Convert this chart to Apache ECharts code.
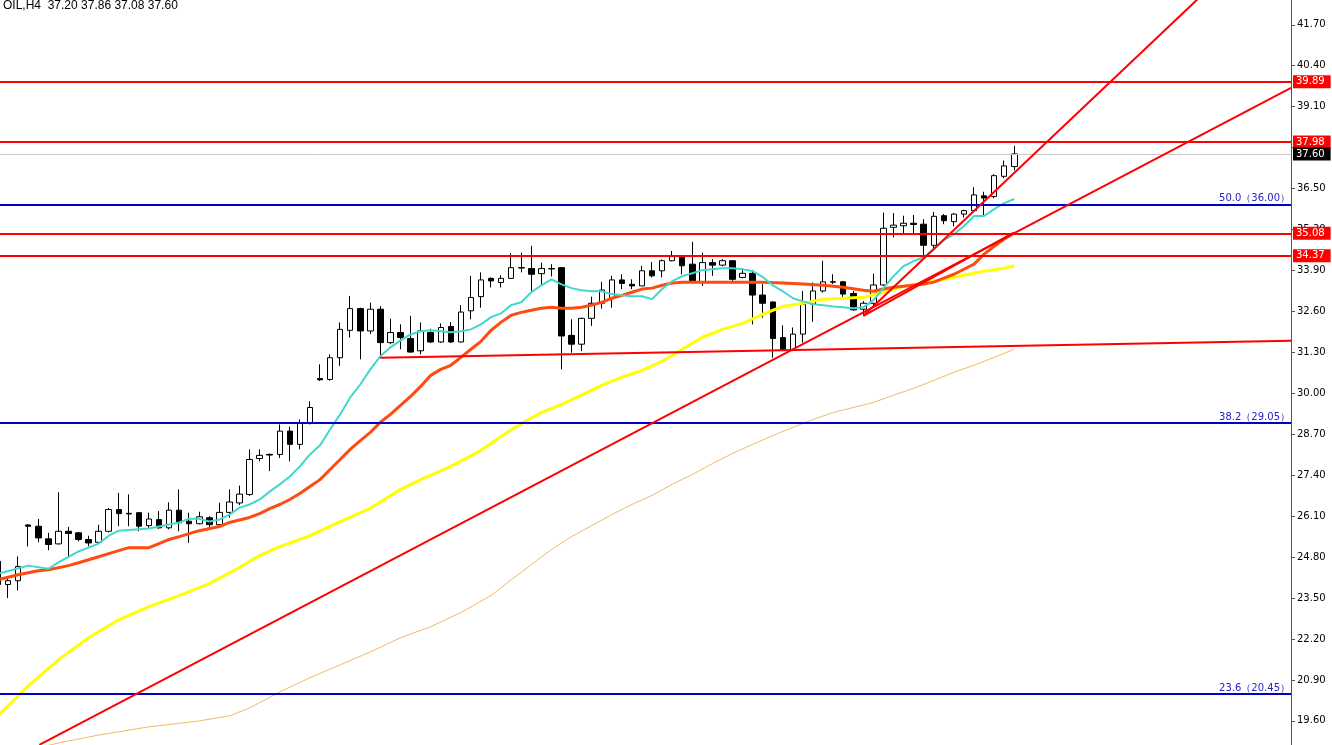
<!DOCTYPE html>
<html><head><meta charset="utf-8">
<script src="https://cdn.jsdelivr.net/npm/echarts@6/dist/echarts.min.js"></script>
<style>html,body{margin:0;padding:0;background:#fff;overflow:hidden;width:1332px;height:745px;position:relative}
#c{position:absolute;left:-7px;top:-13px;width:1339px;height:778px}</style>
</head><body><div id="c"></div>
<script>
const symbolInfo = 'OIL,H4';
const lastOHLC = [37.20, 37.86, 37.08, 37.60];
// candles: [open, high, low, close]
const candles = [
[24.67,24.75,23.90,23.93],[23.93,24.19,23.50,24.05],[24.05,24.82,23.74,24.50],[25.82,25.85,25.14,25.78],
[25.78,26.01,25.27,25.41],[25.38,25.57,25.02,25.20],[25.22,26.86,25.20,25.62],[25.62,25.76,24.78,25.55],
[25.57,25.60,25.30,25.36],[25.36,25.48,25.14,25.25],[25.27,25.83,25.23,25.62],[25.62,26.36,25.58,26.31],
[26.31,26.84,25.78,26.18],[26.19,26.79,25.78,26.17],[26.21,26.23,25.62,25.78],[25.80,26.21,25.73,26.01],
[25.99,26.26,25.70,25.73],[25.73,26.54,25.68,26.29],[26.29,26.95,25.62,25.89],[25.94,26.21,25.25,25.86],
[25.86,26.24,25.84,26.08],[26.05,26.10,25.73,25.83],[25.83,26.53,25.80,26.22],[26.22,26.95,26.05,26.55],
[26.52,27.07,26.45,26.80],[26.79,28.22,26.74,27.90],[27.93,28.22,27.84,28.03],[28.06,28.09,27.53,28.04],
[28.06,29.01,27.95,28.80],[28.80,28.94,27.84,28.38],[28.38,29.17,28.22,29.07],[29.07,29.75,29.01,29.55],
[30.47,30.92,30.39,30.43],[30.44,31.24,30.40,31.13],[31.13,32.25,30.87,32.03],[32.00,33.09,31.77,32.69],
[32.69,32.72,31.08,31.98],[31.98,32.88,31.88,32.67],[32.67,32.77,31.13,31.61],[31.61,32.37,31.56,31.93],
[31.93,32.19,31.40,31.77],[31.74,32.46,31.29,31.31],[31.35,32.25,31.24,31.98],[31.93,32.05,31.60,31.63],
[31.63,32.22,31.60,32.09],[32.12,32.26,31.60,31.63],[31.63,32.80,31.61,32.58],[32.62,33.73,32.35,33.04],
[33.07,33.84,32.72,33.60],[33.65,33.68,33.36,33.57],[33.52,33.75,33.36,33.65],[33.65,34.45,33.64,33.99],
[33.99,34.47,33.84,33.98],[33.96,34.68,33.25,33.78],[33.80,34.15,33.41,33.96],[33.96,34.10,33.71,33.95],
[33.99,34.00,30.76,31.82],[31.84,32.35,31.29,31.56],[31.56,32.40,31.34,32.38],[32.38,33.07,32.14,32.86],
[32.86,33.54,32.69,33.28],[33.04,33.73,32.72,33.60],[33.60,33.78,33.31,33.49],[33.46,33.62,33.31,33.41],
[33.41,34.05,33.40,33.89],[33.89,34.17,33.68,33.73],[33.89,34.25,33.68,34.21],[34.21,34.52,34.19,34.37],
[34.37,34.39,33.78,34.05],[34.10,34.81,33.50,33.52],[33.52,34.47,33.41,34.15],[34.15,34.26,33.73,34.07],
[34.07,34.26,34.03,34.21],[34.21,34.23,33.57,33.62],[33.68,33.96,33.65,33.81],[33.81,33.92,32.19,33.12],
[33.12,33.47,32.40,32.86],[32.90,32.92,31.13,31.74],[31.77,32.16,31.34,31.38],[31.38,32.09,31.34,31.88],
[31.88,33.25,31.61,32.83],[32.83,33.52,32.27,33.25],[33.25,34.21,33.20,33.54],[33.54,33.78,33.47,33.53],
[33.54,33.57,33.00,33.15],[33.17,33.25,32.62,32.65],[32.67,32.93,32.46,32.86],[32.86,33.80,32.78,33.44],
[33.44,35.74,33.41,35.24],[35.27,35.72,34.95,35.34],[35.32,35.64,35.05,35.40],[35.40,35.66,35.05,35.36],
[35.37,35.53,34.31,34.70],[34.70,35.76,34.58,35.62],[35.64,35.69,35.37,35.48],[35.45,35.72,35.30,35.69],
[35.69,35.83,35.58,35.80],[35.80,36.54,35.78,36.30],[36.27,36.40,35.62,36.20],[36.25,36.96,36.19,36.91],
[36.89,37.39,36.83,37.22],[37.20,37.86,37.08,37.60]
];
// moving averages: [candle index, value]
const maCyan = [[0,24.27],[3,24.53],[5,24.43],[6,24.63],[8,24.98],[10,25.23],[11,25.48],[12,25.64],[15,25.71],[18,25.90],[19,26.02],[20,26.02],[21,25.93],[22,25.99],[23,26.15],[24,26.37],[25,26.47],[26,26.63],[27,26.88],[28,27.11],[29,27.36],[30,27.68],[31,28.06],[32,28.35],[33,28.85],[34,29.33],[35,29.87],[36,30.28],[37,30.76],[38,31.18],[39,31.46],[40,31.68],[41,31.87],[42,31.97],[43,32.00],[44,31.97],[45,31.94],[46,31.97],[47,32.03],[48,32.19],[49,32.42],[50,32.54],[51,32.80],[52,32.89],[53,33.21],[54,33.43],[55,33.62],[56,33.46],[57,33.34],[58,33.27],[59,33.24],[60,33.24],[61,33.15],[62,33.11],[63,33.08],[64,33.08],[65,32.99],[66,33.31],[67,33.56],[68,33.72],[69,33.81],[70,33.91],[71,33.94],[72,33.97],[73,33.97],[74,33.94],[75,33.88],[76,33.69],[77,33.43],[78,33.24],[79,33.02],[80,32.92],[81,32.83],[82,32.80],[83,32.76],[84,32.73],[85,32.70],[86,32.73],[87,32.96],[88,33.34],[89,33.72],[90,34.04],[91,34.20],[92,34.32],[93,34.58],[94,34.86],[95,35.05],[96,35.31],[97,35.63],[98,35.63],[99,35.85],[100,36.04],[101,36.17]];
const maOrange = [[0,24.08],[2,24.24],[4,24.37],[5,24.40],[7,24.53],[8,24.62],[10,24.81],[11,24.91],[13,25.10],[15,25.10],[16,25.23],[17,25.36],[18,25.45],[20,25.64],[22,25.77],[23,25.90],[25,26.06],[26,26.18],[27,26.34],[28,26.47],[29,26.63],[30,26.82],[31,27.04],[32,27.26],[33,27.58],[34,27.90],[35,28.22],[36,28.50],[37,28.76],[38,29.08],[39,29.33],[40,29.62],[41,29.90],[42,30.22],[43,30.57],[44,30.76],[45,30.89],[46,31.14],[47,31.40],[48,31.65],[49,32.00],[50,32.26],[51,32.48],[52,32.57],[53,32.64],[54,32.70],[55,32.73],[56,32.70],[57,32.70],[58,32.73],[59,32.80],[60,32.89],[61,33.02],[62,33.11],[63,33.21],[64,33.31],[65,33.34],[66,33.43],[67,33.50],[68,33.53],[70,33.53],[72,33.53],[74,33.53],[76,33.53],[78,33.50],[80,33.47],[82,33.43],[84,33.37],[86,33.27],[87,33.24],[88,33.31],[89,33.37],[90,33.40],[92,33.47],[93,33.53],[94,33.66],[95,33.78],[96,33.94],[97,34.10],[98,34.42],[99,34.67],[100,34.90],[101,35.09]];
const maYellow = [[0,19.76],[3,20.71],[6,21.54],[9,22.24],[12,22.81],[15,23.23],[18,23.58],[21,23.96],[24,24.47],[26,24.85],[28,25.13],[31,25.48],[34,25.93],[37,26.35],[40,26.95],[42,27.26],[45,27.68],[48,28.19],[50,28.63],[52,29.04],[54,29.39],[56,29.65],[58,29.94],[60,30.25],[62,30.51],[64,30.73],[66,31.02],[68,31.40],[70,31.78],[72,32.03],[74,32.22],[76,32.51],[78,32.76],[80,32.86],[82,32.99],[84,33.02],[86,33.05],[88,33.21],[90,33.40],[92,33.50],[94,33.62],[96,33.75],[98,33.88],[100,33.97],[101,34.04]];
const maTan = [[4,18.74],[6,18.90],[10,19.15],[15,19.41],[20,19.60],[23,19.76],[25,20.01],[28,20.52],[31,20.97],[34,21.38],[37,21.79],[40,22.24],[43,22.59],[46,23.04],[49,23.58],[51,24.08],[53,24.56],[55,25.04],[57,25.45],[59,25.80],[61,26.15],[63,26.47],[65,26.76],[67,27.11],[69,27.42],[71,27.77],[73,28.09],[75,28.38],[77,28.66],[79,28.92],[81,29.17],[83,29.39],[85,29.55],[87,29.71],[89,29.94],[91,30.16],[93,30.41],[95,30.67],[97,30.89],[99,31.14],[101,31.40]];
const resistLevels = [39.89, 37.98, 35.08, 34.37];
const fibLevels = [[50.0, 36.00], [38.2, 29.05], [23.6, 20.45]];
const lastPrice = 37.60;
// trend lines: [[index, value],[index, value]]
const trendLines = [
  [[4.1, 18.84], [128.5, 39.70]],
  [[86, 32.46], [120.5, 42.90]],
  [[86, 32.46], [100.9, 35.09]],
  [[38, 31.13], [128.5, 31.67]]
];
const yTicks = [19.60, 20.90, 22.20, 23.50, 24.80, 26.10, 27.40, 28.70, 30.00, 31.30, 32.60, 33.90, 35.20, 36.50, 37.80, 39.10, 40.40, 41.70];
const yMin = 18.2, yMax = 42.9;
const slotCount = 129;

const categories = Array.from({length: slotCount}, (_, i) => String(i));
const FONT = '"DejaVu Sans", Tahoma, sans-serif';

const chart = echarts.init(document.getElementById('c'), null, {renderer: 'canvas'});

const markData = [];
resistLevels.forEach(v => markData.push({
  yAxis: v,
  lineStyle: {color: '#FF0000', width: 2, type: 'solid'},
  label: {show: true, position: 'end', distance: 2, formatter: v.toFixed(2),
    color: '#fff', backgroundColor: '#FF0000', padding: [2, 6, 1, 3], fontSize: 10, fontFamily: FONT}
}));
fibLevels.forEach(([f, v]) => markData.push({
  yAxis: v,
  lineStyle: {color: '#0000C8', width: 2, type: 'solid'},
  label: {show: true, position: 'insideEndTop', distance: [1, 1],
    formatter: f.toFixed(1) + '（' + v.toFixed(2) + '）',
    color: '#2424C8', fontSize: 10, fontFamily: FONT}
}));
markData.push({
  yAxis: lastPrice,
  lineStyle: {color: '#C8C8C8', width: 1, type: 'solid'},
  label: {show: true, position: 'end', distance: 2, formatter: lastPrice.toFixed(2),
    color: '#fff', backgroundColor: '#000', padding: [2, 6, 1, 3], fontSize: 10, fontFamily: FONT}
});

const lineSeries = (data, color, width, z) => ({
  type: 'line', xAxisIndex: 1, yAxisIndex: 0, data, showSymbol: false, symbol: 'none',
  clip: true, silent: true, z, lineStyle: {color, width}
});

const series = [
  {
    type: 'candlestick', xAxisIndex: 0, yAxisIndex: 0, barWidth: 6, z: 2,
    data: candles.map(([o, h, l, c]) => [o, c, l, h]),
    itemStyle: {color: '#fff', color0: '#000', borderColor: '#000', borderColor0: '#000', borderWidth: 1},
    markLine: {silent: true, symbol: ['none', 'none'], animation: false, data: markData, z: 4}
  },
  lineSeries(maTan, '#F2B866', 1, 3),
  lineSeries(maYellow, '#FFFF00', 3, 3),
  lineSeries(maOrange, '#FF4A10', 3, 3),
  lineSeries(maCyan, '#40D8CC', 2, 3)
];
trendLines.forEach(t => series.push(lineSeries(t, '#FF0000', 2, 5)));

chart.setOption({
  animation: false,
  backgroundColor: '#fff',
  title: {
    text: symbolInfo + '  ' + lastOHLC.map(v => v.toFixed(2)).join(' '),
    left: 10, top: 13, padding: 0,
    textStyle: {fontSize: 12, fontWeight: 'normal', color: '#000', fontFamily: '"Liberation Sans", Arial, sans-serif', lineHeight: 12}
  },
  grid: {left: 0, right: 41, top: 0, bottom: 0, containLabel: false},
  xAxis: [
    {type: 'category', data: categories, boundaryGap: true, show: false},
    {type: 'value', min: -0.5, max: slotCount - 0.5, show: false}
  ],
  yAxis: {
    type: 'value', position: 'right', min: yMin, max: yMax, scale: true,
    axisLine: {show: true, onZero: false, lineStyle: {color: '#555', width: 1}},
    axisTick: {show: true, length: 4, lineStyle: {color: '#555'}, customValues: yTicks},
    axisLabel: {show: true, margin: 6, color: '#000', fontSize: 10, fontFamily: FONT,
      customValues: yTicks, formatter: v => v.toFixed(2)},
    splitLine: {show: false}
  },
  series
});
</script></body></html>
